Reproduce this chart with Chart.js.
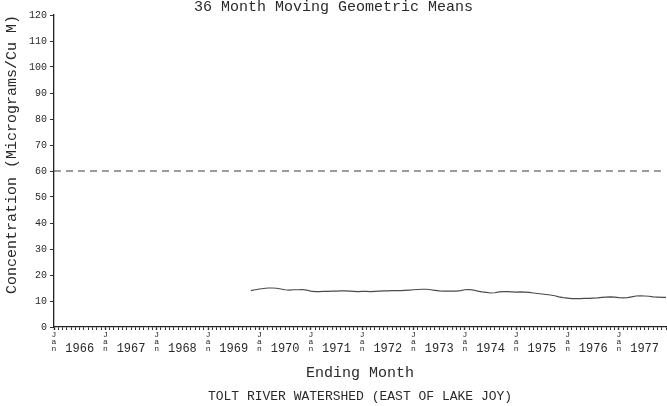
<!DOCTYPE html>
<html>
<head>
<meta charset="utf-8">
<script src="https://cdn.jsdelivr.net/npm/chart.js@4/dist/chart.umd.min.js"></script>
<style>
  html, body { margin: 0; padding: 0; background: #fff; }
  #wrap { width: 667px; height: 406px; }
</style>
</head>
<body>
<div id="wrap"><canvas id="chart"></canvas></div>
<script>
var FONT = '"Liberation Mono", "DejaVu Sans Mono", monospace';
var INK = '#2a2a2a';

// x axis: one category per ending month, Jan 1966 .. Dec 1977
var yearLabels = ['1966', '1967', '1968', '1969', '1970', '1971', '1972', '1973', '1974', '1975', '1976', '1977'];
var monthNames = ['Jan', 'Feb', 'Mar', 'Apr', 'May', 'Jun', 'Jul', 'Aug', 'Sep', 'Oct', 'Nov', 'Dec'];

// 36 month moving geometric means, first value ends Nov 1969
var geoMeanStart = 'Nov 1969';
var geoMeans = [
    14.0, 14.3, 14.6, 14.8, 15.0, 15.0, 14.9, 14.6, 14.3, 14.2,
    14.3, 14.3, 14.4, 14.2, 13.8, 13.6, 13.6, 13.7, 13.7, 13.8,
    13.8, 13.9, 13.9, 13.8, 13.7, 13.6, 13.7, 13.7, 13.6, 13.7,
    13.8, 13.9, 13.9, 14.0, 14.0, 14.0, 14.1, 14.2, 14.3, 14.4,
    14.5, 14.5, 14.3, 14.1, 13.9, 13.8, 13.8, 13.8, 13.8, 14.0,
    14.3, 14.4, 14.2, 13.8, 13.5, 13.3, 13.1, 13.2, 13.5, 13.6,
    13.6, 13.5, 13.4, 13.5, 13.4, 13.3, 13.1, 12.9, 12.7, 12.5,
    12.3, 12.0, 11.6, 11.3, 11.1, 10.9, 10.9, 10.9, 11.0, 11.0,
    11.1, 11.2, 11.4, 11.5, 11.6, 11.5, 11.3, 11.2, 11.3, 11.6,
    11.9, 12.0, 11.9, 11.8, 11.6, 11.5, 11.4, 11.4
];

// dashed reference level
var standardValue = 60;

// y axis
var yMin = 0;
var yMax = 120;
var yStep = 10;

var months = [];
yearLabels.forEach(function(y) {
    monthNames.forEach(function(m) { months.push(m + ' ' + y); });
});

var startIdx = months.indexOf(geoMeanStart);
var geoSeries = months.map(function(m, i) {
    var k = i - startIdx;
    return (k >= 0 && k < geoMeans.length) ? geoMeans[k] : null;
});
var standardSeries = months.map(function() { return standardValue; });

new Chart(document.getElementById('chart'), {
    type: 'line',
    data: {
        labels: months,
        datasets: [
            {
                data: standardSeries,
                borderColor: '#3a3a3a',
                borderWidth: 1.2,
                borderDash: [7, 5],
                pointRadius: 0,
                fill: false
            },
            {
                data: geoSeries,
                borderColor: '#4a4a4a',
                borderWidth: 1.1,
                pointRadius: 0,
                tension: 0,
                spanGaps: false,
                fill: false
            }
        ]
    },
    options: {
        responsive: true,
        maintainAspectRatio: false,
        animation: false,
        layout: { padding: { left: 0, right: 0, top: 0, bottom: 0 } },
        plugins: {
            legend: { display: false },
            tooltip: { enabled: false },
            title: {
                display: true,
                text: '36 Month Moving Geometric Means',
                color: INK,
                font: { family: FONT, size: 15, weight: 'normal', lineHeight: 1 },
                padding: { top: 0, bottom: 0 }
            },
            subtitle: {
                display: true,
                position: 'bottom',
                fullSize: false,
                text: 'TOLT RIVER WATERSHED (EAST OF LAKE JOY)',
                color: INK,
                font: { family: FONT, size: 13, weight: 'normal', lineHeight: 1 },
                padding: { top: 7, bottom: 3 }
            }
        },
        scales: {
            x: {
                type: 'category',
                offset: false,
                border: { display: true, color: '#222', width: 1.3 },
                grid: {
                    display: true,
                    drawOnChartArea: false,
                    drawTicks: true,
                    tickLength: 3,
                    tickColor: '#333',
                    tickWidth: function(c) { return c.index % 12 === 0 ? 1.4 : 1; }
                },
                ticks: {
                    autoSkip: false,
                    maxRotation: 0,
                    minRotation: 0,
                    padding: 1,
                    color: INK,
                    font: function(c) {
                        if (c.index % 12 === 0) {
                            return { family: FONT, size: 8, lineHeight: 0.9 };
                        }
                        return { family: FONT, size: 12, lineHeight: 1 };
                    },
                    callback: function(value, index) {
                        var m = index % 12;
                        if (m === 0) return ['J', 'a', 'n'];
                        if (m === 6) return ['', yearLabels[Math.floor(index / 12)]];
                        return '';
                    }
                },
                title: {
                    display: true,
                    text: 'Ending Month',
                    color: INK,
                    font: { family: FONT, size: 15, weight: 'normal', lineHeight: 1 },
                    padding: { top: 10, bottom: 2 }
                }
            },
            y: {
                min: yMin,
                max: yMax,
                border: { display: true, color: '#222', width: 1.3 },
                grid: {
                    display: true,
                    drawOnChartArea: false,
                    drawTicks: true,
                    tickLength: 4,
                    tickColor: '#333'
                },
                ticks: {
                    stepSize: yStep,
                    padding: 3,
                    color: INK,
                    font: { family: FONT, size: 10 }
                },
                title: {
                    display: true,
                    text: 'Concentration (Micrograms/Cu M)',
                    align: 'end',
                    color: INK,
                    font: { family: FONT, size: 15, weight: 'normal', lineHeight: 1 },
                    padding: { top: 5, bottom: 6 }
                }
            }
        }
    }
});
</script>
</body>
</html>
